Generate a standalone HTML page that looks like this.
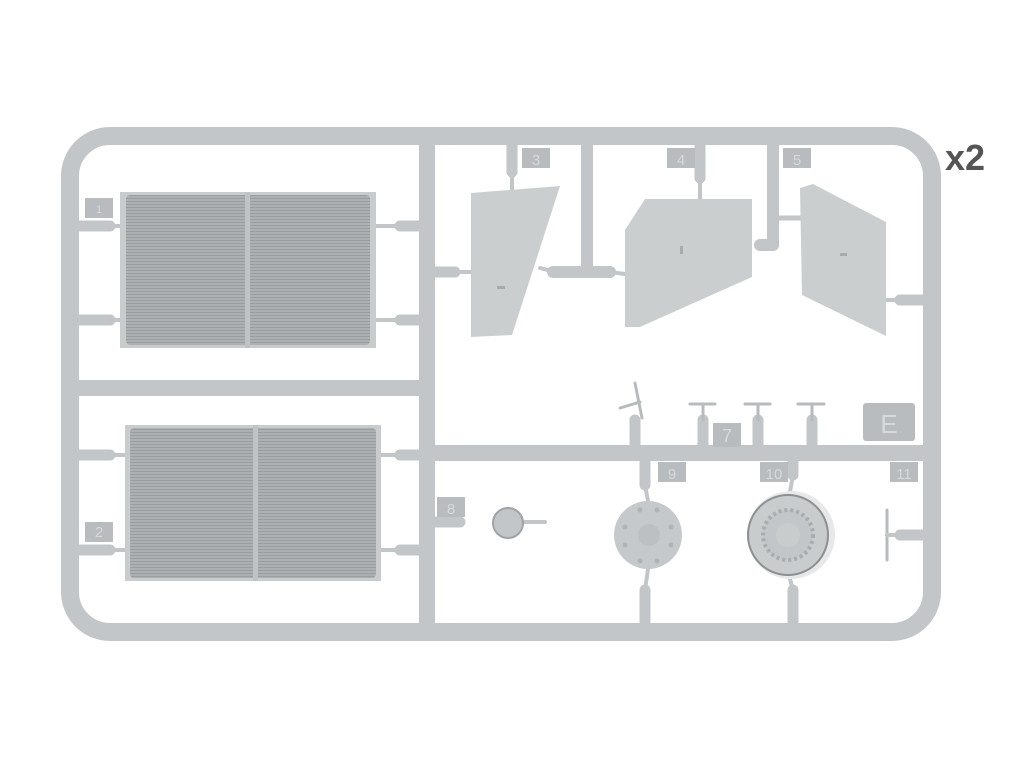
<!DOCTYPE html>
<html><head><style>
html,body{margin:0;padding:0;background:#fff;}
svg{display:block;}
</style></head><body>
<svg width="1025" height="769" viewBox="0 0 1025 769" xmlns="http://www.w3.org/2000/svg">
<defs>
<pattern id="rib" width="4" height="3" patternUnits="userSpaceOnUse">
<rect width="4" height="3" fill="#adb0b2"/><rect width="4" height="1" fill="#9b9ea0"/>
</pattern>
</defs>
<g fill="none" stroke="#c3c6c8" stroke-linecap="round">
<rect x="70" y="136" width="862" height="496" rx="40" stroke-width="18"/>
<line x1="427" y1="140" x2="427" y2="628" stroke-width="16"/>
<line x1="74" y1="388" x2="427" y2="388" stroke-width="16"/>
<line x1="427" y1="453" x2="928" y2="453" stroke-width="16"/>
<line x1="587" y1="145" x2="587" y2="272" stroke-width="12"/>
<line x1="553" y1="272" x2="610" y2="272" stroke-width="12"/>
<line x1="773" y1="145" x2="773" y2="245" stroke-width="12"/>
<line x1="760" y1="245" x2="773" y2="245" stroke-width="12"/>
<line x1="773" y1="218" x2="800" y2="218" stroke-width="5"/>
<line x1="512" y1="145" x2="512" y2="172" stroke-width="11"/>
<line x1="512" y1="172" x2="512" y2="192" stroke-width="4"/>
<line x1="700" y1="145" x2="700" y2="178" stroke-width="11"/>
<line x1="700" y1="178" x2="700" y2="199" stroke-width="4"/>
<line x1="540" y1="268" x2="555" y2="272" stroke-width="4"/>
<line x1="610" y1="272" x2="625" y2="274" stroke-width="4"/>
<g stroke-width="11">
<line x1="78" y1="226" x2="110" y2="226"/><line x1="78" y1="320" x2="110" y2="320"/>
<line x1="400" y1="226" x2="420" y2="226"/><line x1="400" y1="320" x2="420" y2="320"/>
<line x1="435" y1="272" x2="455" y2="272"/>
<line x1="78" y1="455" x2="110" y2="455"/><line x1="78" y1="550" x2="110" y2="550"/>
<line x1="400" y1="455" x2="420" y2="455"/><line x1="400" y1="550" x2="420" y2="550"/>
<line x1="900" y1="300" x2="925" y2="300"/>
<line x1="635" y1="420" x2="635" y2="446"/><line x1="703" y1="420" x2="703" y2="446"/>
<line x1="758" y1="420" x2="758" y2="446"/><line x1="812" y1="420" x2="812" y2="446"/>
<line x1="645" y1="460" x2="645" y2="485"/><line x1="793" y1="460" x2="793" y2="475"/>
<line x1="645" y1="590" x2="645" y2="624"/><line x1="793" y1="590" x2="793" y2="624"/>
<line x1="900" y1="535" x2="925" y2="535"/><line x1="435" y1="522" x2="460" y2="522"/>
</g>
<g stroke-width="4">
<line x1="455" y1="272" x2="471" y2="272"/>
<line x1="645" y1="485" x2="648" y2="501"/><line x1="645" y1="590" x2="648" y2="569"/>
<line x1="793" y1="475" x2="790" y2="492"/><line x1="793" y1="590" x2="790" y2="579"/>
<line x1="110" y1="226" x2="120" y2="226"/><line x1="110" y1="320" x2="120" y2="320"/>
<line x1="376" y1="226" x2="400" y2="226"/><line x1="376" y1="320" x2="400" y2="320"/>
<line x1="110" y1="455" x2="125" y2="455"/><line x1="110" y1="550" x2="125" y2="550"/>
<line x1="381" y1="455" x2="400" y2="455"/><line x1="381" y1="550" x2="400" y2="550"/>
<line x1="886" y1="300" x2="900" y2="300"/><line x1="523" y1="522" x2="545" y2="522"/>
</g>
<line x1="887" y1="510" x2="887" y2="560" stroke-width="3" stroke="#b8bbbd"/>
<line x1="887" y1="535" x2="905" y2="535" stroke-width="4"/>
<g stroke-width="3" stroke="#b8bbbd">
<line x1="690" y1="404" x2="715" y2="404"/><line x1="745" y1="404" x2="770" y2="404"/><line x1="798" y1="404" x2="824" y2="404"/>
<line x1="703" y1="404" x2="703" y2="420"/><line x1="758" y1="404" x2="758" y2="420"/><line x1="812" y1="404" x2="812" y2="420"/>
<line x1="620" y1="408" x2="640" y2="402"/><line x1="635" y1="383" x2="642" y2="418"/>
</g>
</g>
<g fill="#b9bcbe">
<rect x="85" y="198" width="28" height="20"/><rect x="85" y="522" width="28" height="20"/>
<rect x="522" y="148" width="28" height="20"/><rect x="667" y="148" width="28" height="20"/>
<rect x="783" y="148" width="28" height="20"/><rect x="713" y="423" width="28" height="24"/>
<rect x="437" y="497" width="28" height="20"/><rect x="658" y="462" width="28" height="20"/>
<rect x="760" y="462" width="28" height="20"/><rect x="890" y="462" width="28" height="20"/>
<rect x="863" y="403" width="52" height="38" rx="3"/>
</g>
<g fill="#d6d8da" font-family="Liberation Sans, sans-serif" font-size="15" text-anchor="middle">
<text x="99" y="213" font-size="11">1</text><text x="99" y="537">2</text>
<text x="536" y="165">3</text><text x="681" y="165">4</text><text x="797" y="165">5</text>
<text x="727" y="442" font-size="18">7</text><text x="451" y="514">8</text>
<text x="672" y="479">9</text><text x="774" y="479">10</text><text x="904" y="479">11</text>
<text x="889" y="433" font-size="26">E</text>
</g>
<rect x="120" y="192" width="256" height="156" fill="#c9cccd"/>
<rect x="126" y="195" width="244" height="150" rx="4" fill="url(#rib)"/>
<rect x="245" y="192" width="5" height="156" fill="#c0c3c5"/>
<rect x="125" y="425" width="256" height="156" fill="#c9cccd"/>
<rect x="130" y="428" width="246" height="150" rx="4" fill="url(#rib)"/>
<rect x="253" y="425" width="5" height="156" fill="#c0c3c5"/>
<g fill="#cbcecf">
<path d="M471 193 L560 186 L512 335 L471 337 Z"/>
<path d="M625 230 L645 199 L752 199 L752 277 L640 327 L625 327 Z"/>
<path d="M800 188 L813 184 L886 222 L886 336 L802 295 Z"/>
</g>
<g fill="#a9acae">
<rect x="497" y="286" width="8" height="3"/><rect x="680" y="246" width="3" height="8"/><rect x="840" y="253" width="7" height="3"/>
</g>
<circle cx="508" cy="523" r="15" fill="#c3c6c8" stroke="#a0a3a5" stroke-width="2"/>
<circle cx="648" cy="535" r="34" fill="#c6c9cb"/>
<circle cx="649" cy="535" r="11" fill="#bdc0c2"/>
<g fill="#b0b3b5"><circle cx="625" cy="527" r="2.5"/><circle cx="671" cy="527" r="2.5"/><circle cx="625" cy="545" r="2.5"/><circle cx="671" cy="545" r="2.5"/><circle cx="640" cy="510" r="2.5"/><circle cx="657" cy="510" r="2.5"/><circle cx="640" cy="561" r="2.5"/><circle cx="657" cy="561" r="2.5"/></g>
<circle cx="791" cy="535" r="44" fill="#e6e8e9"/>
<circle cx="788" cy="535" r="40" fill="#c9cccd" stroke="#8d9092" stroke-width="2"/>
<circle cx="788" cy="535" r="25" fill="#c3c6c8" stroke="#a9acae" stroke-width="4" stroke-dasharray="3 3"/>
<circle cx="788" cy="535" r="12" fill="#c9cccd"/>
<text x="945" y="170" font-family="Liberation Sans, sans-serif" font-weight="bold" font-size="36" fill="#555">x2</text>
</svg>
</body></html>
